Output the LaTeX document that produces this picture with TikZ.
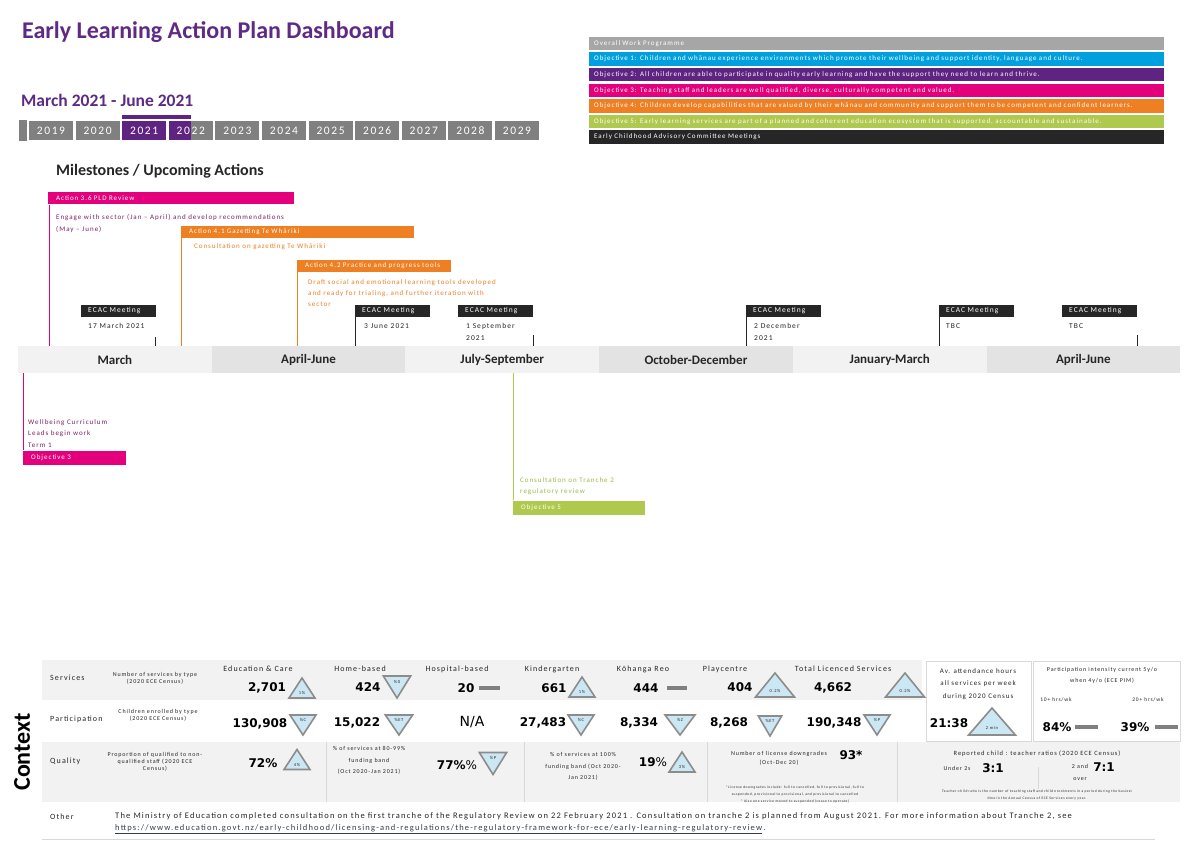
\documentclass[tikz,border=0pt]{standalone}
\usepackage{fontspec}
\setmainfont{Carlito}
\newfontfamily\lsf[LetterSpace=14]{Carlito}
\newfontfamily\yrf[LetterSpace=14]{Carlito}
\newfontfamily\numf{DejaVu Sans}
\definecolor{titlepurple}{HTML}{5E2A84}
\definecolor{epurple}{HTML}{5F2481}
\definecolor{emag}{HTML}{E4007C}
\definecolor{eorange}{HTML}{EE7F22}
\definecolor{eblue}{HTML}{00A0DE}
\definecolor{egreen}{HTML}{AFC84E}
\definecolor{egreentext}{HTML}{9DBA45}
\definecolor{edark}{HTML}{262626}
\definecolor{egrey}{HTML}{A6A6A6}
\definecolor{ygrey}{HTML}{808080}
\definecolor{tlight}{HTML}{F2F2F2}
\definecolor{tdark}{HTML}{E3E3E3}
\definecolor{darkmag}{HTML}{7E1F63}
\definecolor{trifill}{HTML}{CCE7F4}
\definecolor{tribord}{HTML}{8C8C8C}
\definecolor{rowgrey}{HTML}{F2F2F2}
\definecolor{linegrey}{HTML}{D9D9D9}
\definecolor{linkcol}{HTML}{333F50}
\tikzset{
 legrow/.style={anchor=west, minimum height=13.5pt, text width=565pt, inner xsep=5pt, inner ysep=0pt, align=left, text=white, font=\lsf\fontsize{7}{8}\selectfont},
 yearbox/.style={minimum width=44pt, minimum height=19pt, inner sep=0pt, fill=ygrey, text=white, font=\yrf\fontsize{11.5}{12}\selectfont},
 yearsel/.style={yearbox, fill=epurple},
 yearpart/.style={yearbox, path picture={\fill[epurple] (path picture bounding box.north west) rectangle ([xshift=22pt]path picture bounding box.south west);}},
 qbox/.style={minimum width=193.7pt, minimum height=27pt, inner sep=0pt, text=edark, font=\bfseries\fontsize{13}{13}\selectfont},
 actbar/.style={anchor=west, minimum height=12pt, inner xsep=8pt, inner ysep=0pt, align=left, text=white, font=\lsf\fontsize{7}{8}\selectfont},
 ecac/.style={anchor=west, fill=edark, minimum height=12pt, text width=61pt, inner xsep=7pt, inner ysep=0pt, align=left, text=white, font=\lsf\fontsize{7.5}{8}\selectfont},
 datetxt/.style={anchor=north west, inner sep=0pt, align=left, text=edark, font=\lsf\fontsize{7.5}{12}\selectfont},
 mtext/.style={anchor=north west, inner sep=0pt, align=left, font=\lsf\fontsize{7}{11.5}\selectfont},
 objbox/.style={anchor=west, minimum height=14pt, inner xsep=8pt, inner ysep=0pt, align=left, text=white, font=\lsf\fontsize{7}{8}\selectfont},
 vline/.style={line width=0.8pt},
 ecline/.style={edark, line width=0.8pt},
 rowlab/.style={anchor=west, inner sep=0pt, text=edark, font=\lsf\fontsize{8}{9}\selectfont},
 colhead/.style={inner sep=0pt, text=edark, font=\lsf\fontsize{8}{9}\selectfont},
 desc/.style={inner sep=0pt, align=center, text=edark, font=\lsf\fontsize{6}{7}\selectfont},
 val/.style={inner sep=0pt, text=black, font=\numf\bfseries\fontsize{12}{12}\selectfont},
 tri/.style={draw=tribord, fill=trifill, line width=1.6pt, line join=miter},
 trilab/.style={inner sep=0pt, text=edark, font=\lsf\fontsize{4.5}{5}\selectfont},
 dashbar/.style={fill=ygrey},
 tinytxt/.style={inner sep=0pt, align=center, text=edark, font=\lsf\fontsize{3.6}{7}\selectfont},
 pics/uptri/.style={code={\path[tri] (-13,10) -- (13,10) -- (0,-10) -- cycle; \node[trilab] (-l) at (0,5) {#1};}},
 pics/dntri/.style={code={\path[tri] (-13,-10) -- (13,-10) -- (0,10) -- cycle; \node[trilab] (-l) at (0,-5) {#1};}},
}
\begin{document}
\begin{tikzpicture}[x=1pt,y=-1pt]
\useasboundingbox (0,0) rectangle (1191,842);
\fill[white] (0,0) rectangle (1191,842);

% ---------- title area
\node[anchor=west, inner sep=0pt, text=titlepurple, font=\bfseries\fontsize{24}{24}\selectfont] (title) at (22,32) {Early Learning Action Plan Dashboard};
\node[anchor=west, inner sep=0pt, text=titlepurple, font=\bfseries\fontsize{17.5}{18}\selectfont] (range) at (21,100) {March 2021 - June 2021};

% ---------- year bar
\node[fill=ygrey, minimum width=8pt, minimum height=21pt, inner sep=0pt] (ystart) at (23,130.5) {};
\foreach \yr/\st [count=\i from 0] in {2019/yearbox,2020/yearbox,2021/yearsel,2022/yearpart,2023/yearbox,2024/yearbox,2025/yearbox,2026/yearbox,2027/yearbox,2028/yearbox,2029/yearbox}
  \node[\st] (y\yr) at ({51+46.6*\i},131) {\yr};
\fill[epurple] ([yshift=2pt]y2021.north west) rectangle ([yshift=6pt]y2022.north);

% ---------- legend
\node[legrow, fill=egrey] (lg0) at (589,43.5) {Overall Work Programme};
\node[legrow, fill=eblue] (lg1) at (589,59.1) {Objective 1: Children and whānau experience environments which promote their wellbeing and support identity, language and culture.};
\node[legrow, fill=epurple] (lg2) at (589,74.7) {Objective 2: All children are able to participate in quality early learning and have the support they need to learn and thrive.};
\node[legrow, fill=emag] (lg3) at (589,90.3) {Objective 3: Teaching staff and leaders are well qualified, diverse, culturally competent and valued.};
\node[legrow, fill=eorange] (lg4) at (589,105.9) {Objective 4: Children develop capabilities that are valued by their whānau and community and support them to be competent and confident learners.};
\node[legrow, fill=egreen] (lg5) at (589,121.5) {Objective 5: Early learning services are part of a planned and coherent education ecosystem that is supported, accountable and sustainable.};
\node[legrow, fill=edark] (lg6) at (589,137.1) {Early Childhood Advisory Committee Meetings};

% ---------- milestones
\node[anchor=west, inner sep=0pt, text=edark, font=\bfseries\fontsize{16}{16}\selectfont] (ms) at (56,171.5) {Milestones / Upcoming Actions};

\node[actbar, fill=emag, text width=230pt] (a36) at (48,198.5) {Action 3.6 PLD Review};
\node[actbar, fill=eorange, text width=217pt] (a41) at (181,232) {Action 4.1 Gazetting Te Whāriki};
\node[actbar, fill=eorange, text width=138pt] (a42) at (297,266) {Action 4.2 Practice and progress tools};

\node[mtext, text=darkmag, font=\lsf\fontsize{7}{12}\selectfont] (a36t) at (56,214.3) {Engage with sector (Jan – April) and develop recommendations\\(May – June)};
\node[mtext, text=eorange] (a41t) at (194,243.3) {Consultation on gazetting Te Whāriki};
\node[mtext, text=eorange, font=\lsf\fontsize{7}{11}\selectfont] (a42t) at (308,279.3) {Draft social and emotional learning tools developed\\and ready for trialing, and further iteration with\\sector};

% ---------- timeline
\foreach \lab/\c [count=\i from 0] in {March/tlight,April-June/tdark,July-September/tlight,October-December/tdark,January-March/tlight,April-June/tdark}
  \node[qbox, fill=\c] (q\i) at ({18+96.85+193.7*\i},359.5) {\lab};

\draw[vline, emag] ([xshift=1pt]a36.south west) -- ([xshift=1pt]a36.south west |- q0.north);
\draw[vline, eorange] (a41.south west) -- (a41.south west |- q0.north);
\draw[vline, eorange] (a42.south west) -- (a42.south west |- q1.north);

% ---------- ECAC meetings
\node[ecac] (e1) at (81,311) {ECAC Meeting};
\node[ecac] (e2) at (355,311) {ECAC Meeting};
\node[ecac] (e3) at (458,311) {ECAC Meeting};
\node[ecac] (e4) at (746,311) {ECAC Meeting};
\node[ecac] (e5) at (939,311) {ECAC Meeting};
\node[ecac] (e6) at (1062,311) {ECAC Meeting};
\node[datetxt] (d1) at (88,323.5) {17 March 2021};
\node[datetxt] (d2) at (364,323.5) {3 June 2021};
\node[datetxt] (d3) at (466,323.5) {1 September\\2021};
\node[datetxt] (d4) at (754,323.5) {2 December\\2021};
\node[datetxt] (d5) at (946,323.5) {TBC};
\node[datetxt] (d6) at (1069,323.5) {TBC};
\draw[ecline] ([xshift=-1pt,yshift=-20pt]e1.south east) -- ([xshift=-1pt]e1.south east |- q0.north);
\draw[ecline] (e2.south west) -- (e2.south west |- q1.north);
\draw[ecline] ([yshift=-18pt]e3.south east) -- (e3.south east |- q2.north);
\draw[ecline] (e4.south west) -- (e4.south west |- q3.north);
\draw[ecline] (e5.south west) -- (e5.south west |- q4.north);
\draw[ecline] ([yshift=-18pt]e6.south east) -- (e6.south east |- q5.north);

% ---------- below the timeline
\node[objbox, fill=emag, text width=87pt] (ob3) at (23,457.5) {Objective 3};
\draw[vline, emag] (ob3.north west) -- (ob3.north west |- q0.south);
\node[mtext, text=darkmag] (wb) at (28,419.3) {Wellbeing Curriculum\\Leads begin work\\Term 1};
\node[objbox, fill=egreen, text width=116pt] (ob5) at (513,507.5) {Objective 5};
\draw[vline, egreen] (ob5.north west) -- (ob5.north west |- q2.south);
\node[mtext, text=egreentext] (tr) at (520,477.3) {Consultation on Tranche 2\\regulatory review};

% ---------- context table backgrounds
\fill[rowgrey] (42,660) rectangle (922,700);
\fill[rowgrey] (42,742) rectangle (1180,802);
\draw[linegrey, fill=white] (926,661) rectangle (1031,741);
\draw[linegrey, fill=white] (1033,661) rectangle (1180,741);
\draw[linegrey] (326,742) -- (326,802);
\draw[linegrey] (524,742) -- (524,802);
\draw[linegrey] (707,742) -- (707,802);
\draw[linegrey] (897,742) -- (897,802);
\draw[linegrey] (1038,767) -- (1038,789);
\draw[linegrey, line width=1pt] (42,839) -- (1155,839);

\node[rotate=90, inner sep=0pt, text=black, font=\bfseries\fontsize{24}{24}\selectfont] (ctx) at (22,752) {Context};

\node[rowlab] (rsv) at (50,678) {Services};
\node[rowlab] (rpa) at (50,719) {Participation};
\node[rowlab] (rqu) at (50,761) {Quality};
\node[rowlab] (rot) at (50,817) {Other};

\node[desc] (dsv) at (155,678.5) {Number of services by type\\(2020 ECE Census)};
\node[desc] (dpa) at (158,715.5) {Children enrolled by type\\(2020 ECE Census)};
\node[desc] (dqu) at (155,762) {Proportion of qualified to non-\\qualified staff (2020 ECE\\Census)};

% services
\node[colhead] (h1) at (258,669) {Education \& Care};
\node[colhead] (h2) at (360,669) {Home-based};
\node[colhead] (h3) at (457,669) {Hospital-based};
\node[colhead] (h4) at (552,669) {Kindergarten};
\node[colhead] (h5) at (643,669) {Kōhanga Reo};
\node[colhead] (h6) at (725,669) {Playcentre};
\node[colhead] (h7) at (843,669) {Total Licenced Services};

\node[val] (v1) at (267,688) {2,701};
\node[val] (v2) at (368,687) {424};
\node[val] (v3) at (466,688) {20};
\node[val] (v4) at (554,688) {661};
\node[val] (v5) at (646,688) {444};
\node[val] (v6) at (740,687) {404};
\node[val] (v7) at (833,688) {4,662};
\pic (t1) at (302,688) {uptri=1\%};
\pic[xscale=1.05,yscale=1.1] (t2) at (397,687) {dntri=\%0};
\pic (t4) at (582,687) {uptri=1\%};
\pic[xscale=1.5,yscale=1.2] (t6) at (775,685) {uptri=0.2\%};
\pic[xscale=1.5,yscale=1.2] (t7) at (905,685) {uptri=0.2\%};
\fill[dashbar] (479,685.5) rectangle (500,689.5);
\fill[dashbar] (667,685.5) rectangle (687,689.5);

% participation
\node[val] (p1) at (260,724) {130,908};
\node[val] (p2) at (357,723) {15,022};
\node[val, font=\numf\fontsize{14}{14}\selectfont] (p3) at (472,722) {N/A};
\node[val] (p4) at (543,723) {27,483};
\node[val] (p5) at (639,723) {8,334};
\node[val] (p6) at (729,723) {8,268};
\node[val] (p7) at (834,723) {190,348};
\pic (u1) at (303,725) {dntri=\%C};
\pic[xscale=1.05] (u2) at (399,725) {dntri=\%ET};
\pic (u4) at (581,725) {dntri=\%C};
\pic[xscale=1.15] (u5) at (680,725) {dntri=\%Z};
\pic[xscale=0.9] (u6) at (770,726) {dntri=\%ET};
\pic (u7) at (877,725) {dntri=\%P};

% attendance and intensity
\node[desc, font=\lsf\fontsize{7}{12.5}\selectfont] (att) at (978,684) {Av. attendance hours\\all services per week\\during 2020 Census};
\node[val] (vatt) at (949,723) {21:38};
\pic[xscale=1.8,yscale=1.35] (tatt) at (992,721.5) {uptri=2 min};
\node[desc, font=\lsf\fontsize{6}{11}\selectfont] (pim) at (1102,675.5) {Participation intensity current 5y/o\\when 4y/o (ECE PIM)};
\node[desc, font=\lsf\fontsize{5.5}{6}\selectfont] (h10) at (1056,700) {10+ hrs/wk};
\node[desc, font=\lsf\fontsize{5.5}{6}\selectfont] (h20) at (1148,700) {20+ hrs/wk};
\node[val] (v84) at (1057,727) {84\%};
\node[val] (v39) at (1135,727) {39\%};
\fill[dashbar] (1075,725) rectangle (1098,729);
\fill[dashbar] (1155,725) rectangle (1178,729);

% quality
\node[val] (q72) at (263,763) {72\%};
\pic (tq1) at (297,759.5) {uptri=4\%};
\node[desc, font=\lsf\fontsize{6}{11.5}\selectfont] (dq2) at (369,760.5) {\% of services at 80-99\%\\funding band\\(Oct 2020-Jan 2021)};
\node[val, font=\numf\fontsize{12}{12}\selectfont] (q77) at (457,765) {{\bfseries 77\%}\%};
\pic[xscale=1.05,yscale=1.1] (tq2) at (493,763.5) {dntri=\%P};
\node[desc, font=\lsf\fontsize{6}{11.5}\selectfont] (dq3) at (583,766.5) {\% of services at 100\%\\funding band (Oct 2020-\\Jan 2021)};
\node[val, font=\numf\fontsize{12}{12}\selectfont] (q19) at (653,762) {{\bfseries 19}\%};
\pic (tq3) at (682,762) {uptri=3\%};
\node[desc, font=\lsf\fontsize{6}{9}\selectfont] (dq4) at (779,758.5) {Number of license downgrades\\(Oct-Dec 20)};
\node[val] (q93) at (851,755) {93*};
\node[tinytxt] (fn1) at (795,794.5) {*License downgrades include: full to cancelled, full to provisional, full to\\suspended, provisional to provisional, and provisional to cancelled\\* Also one service moved to suspended (cease to operate)};
\node[desc, font=\lsf\fontsize{6.5}{7}\selectfont] (dq5) at (1037,754) {Reported child : teacher ratios (2020 ECE Census)};
\node[desc] (u2s) at (957,768) {Under 2s};
\node[val] (r31) at (993,768) {3:1};
\node[desc, font=\lsf\fontsize{6}{12}\selectfont] (o2) at (1080,772) {2 and\\over};
\node[val] (r71) at (1104,767) {7:1};
\node[tinytxt] (fn2) at (1037,795.5) {Teacher:child ratio is the number of teaching staff and child enrolments in a period during the busiest\\time in the Annual Census of ECE Services every year.};

% other
\node[anchor=west, inner sep=0pt, text=edark, font=\lsf\fontsize{8.5}{9}\selectfont] (oth1) at (115,816) {The Ministry of Education completed consultation on the first tranche of the Regulatory Review on 22 February 2021 . Consultation on tranche 2 is planned from August 2021. For more information about Tranche 2, see};
\node[anchor=west, inner sep=0pt, text=linkcol, font=\lsf\fontsize{8.5}{9}\selectfont] (oth2) at (115,829.5) {\underline{https://www.education.govt.nz/early-childhood/licensing-and-regulations/the-regulatory-framework-for-ece/early-learning-regulatory-review}\,.};
\end{tikzpicture}
\end{document}
